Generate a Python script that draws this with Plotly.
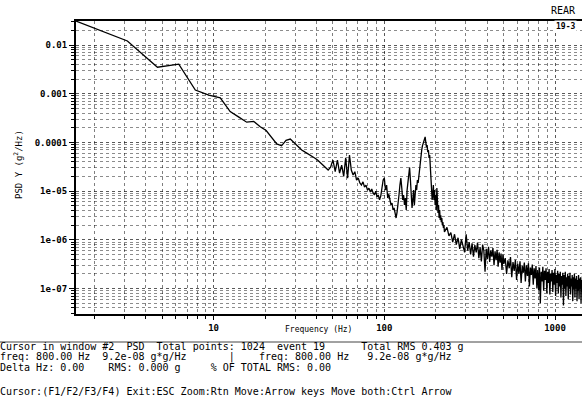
import math
import plotly.graph_objects as go

# ---------------- data ----------------
freq_low = [1.5625, 3.125, 4.6875, 6.25, 7.8125, 9.375, 10.9375,
            12.5, 14.0625, 15.625, 17.1875, 18.75, 20.3125, 21.875, 23.4375, 25.0,
            26.5625, 28.125, 29.6875, 31.25, 32.8125, 34.375, 35.9375, 37.5,
            39.0625, 40.625, 42.1875, 43.75, 45.3125, 46.875, 48.4375, 50.0,
            51.5625, 53.125, 54.6875, 56.25, 57.8125, 59.375, 60.9375, 62.5,
            64.0625, 65.625, 67.1875, 68.75, 70.3125, 71.875, 73.4375, 75.0,
            76.5625, 78.125, 79.6875, 81.25, 82.8125, 84.375, 85.9375, 87.5,
            89.0625, 90.625, 92.1875, 93.75, 95.3125, 96.875, 98.4375, 100.0]
psd_low = [3.1e-2, 1.21e-2, 3.5e-3, 4.05e-3, 1.19e-3, 9.4e-4, 8.2e-4,
           4.3e-4, 3.3e-4, 2.6e-4, 2.7e-4, 2.1e-4, 1.75e-4, 1.23e-4, 9.3e-5, 8.5e-5,
           1.1e-4, 1.17e-4, 9.7e-5, 8.0e-5, 7.0e-5, 6.3e-5, 5.8e-5, 5.3e-5,
           4.8e-5, 4.35e-5, 3.8e-5, 3.4e-5, 3.0e-5, 2.7e-5, 3.1e-5, 4.35e-5,
           2.5e-5, 4.35e-5, 2.35e-5, 3.4e-5, 2.0e-5, 4.8e-5, 1.85e-5, 5.5e-5,
           2.7e-5, 2.14e-5, 2.5e-5, 1.69e-5, 1.85e-5, 1.47e-5, 1.33e-5, 1.55e-5,
           1.21e-5, 1.33e-5, 1.05e-5, 1.15e-5, 9.6e-6, 1.1e-5, 9.2e-6, 8.3e-6,
           1.0e-5, 7.6e-6, 8.3e-6, 6.6e-6, 7.9e-6, 1.27e-5, 1.69e-5, 1.85e-5]

freq_mid = [101.5625, 103.125, 104.6875, 106.25, 107.8125, 109.375, 110.9375, 112.5,
            114.0625, 115.625, 117.1875, 118.75, 120.3125, 121.875, 123.4375, 125.0,
            126.5625, 128.125, 129.6875, 131.25, 132.8125, 134.375, 135.9375, 137.5,
            139.0625, 140.625, 142.1875, 143.75, 145.3125, 146.875, 148.4375, 150.0,
            151.5625, 153.125, 154.6875, 156.25, 157.8125, 159.375, 160.9375, 162.5,
            164.0625, 165.625, 167.1875, 168.75, 170.3125, 171.875, 173.4375, 175.0,
            176.5625, 178.125, 179.6875, 181.25, 182.8125, 184.375, 185.9375, 187.5,
            189.0625, 190.625, 192.1875, 193.75, 195.3125, 196.875, 198.4375, 200.0,
            201.5625, 203.125, 204.6875, 206.25, 207.8125, 209.375, 210.9375, 212.5,
            214.0625, 215.625, 217.1875, 218.75, 220.3125, 221.875, 223.4375, 225.0]
psd_mid = [1.05e-5, 1.33e-5, 7.2e-6, 8.6e-6, 6.6e-6, 5.2e-6, 5.7e-6, 4.1e-6,
           4.5e-6, 3.4e-6, 2.8e-6, 3.7e-6, 5.2e-6, 8.3e-6, 1.33e-5, 1.85e-5,
           1.15e-5, 6.6e-6, 8.3e-6, 5.2e-6, 7.2e-6, 4.1e-6, 1.05e-5, 1.69e-5,
           2.7e-5, 3.06e-5, 1.69e-5, 8.3e-6, 4.5e-6, 6.6e-6, 1.05e-5, 5.2e-6,
           8.3e-6, 1.33e-5, 1.05e-5, 1.69e-5, 1.47e-5, 2.14e-5, 3.0e-5, 4.35e-5,
           5.5e-5, 7.0e-5, 8.5e-5, 9.7e-5, 1.07e-4, 1.2e-4, 1.3e-4, 1.0e-4,
           8.0e-5, 8.8e-5, 6.3e-5, 7.0e-5, 4.8e-5, 5.5e-5, 3.4e-5, 2.14e-5,
           1.05e-5, 6.6e-6, 8.3e-6, 1.33e-5, 6.6e-6, 1.05e-5, 5.2e-6, 8.3e-6,
           4.1e-6, 1.15e-5, 6.6e-6, 3.55e-6, 5.2e-6, 2.8e-6, 4.1e-6, 2.55e-6,
           3.2e-6, 2.3e-6, 2.8e-6, 2.0e-6, 2.3e-6, 1.75e-6, 2.0e-6, 1.45e-6]

freq_hi_a = [226.5625, 232.8125, 239.0625, 245.3125, 251.5625, 257.8125, 264.0625, 270.3125, 276.5625,
             282.8125, 289.0625, 295.3125, 301.5625, 307.8125, 314.0625, 320.3125, 326.5625,
             332.8125, 339.0625, 345.3125, 351.5625, 357.8125, 364.0625, 370.3125, 376.5625,
             382.8125, 389.0625, 395.3125, 401.5625, 407.8125, 414.0625, 420.3125, 426.5625,
             432.8125, 439.0625, 445.3125, 451.5625, 457.8125, 464.0625, 470.3125, 476.5625,
             482.8125, 489.0625, 495.3125, 501.5625]
psd_hi_a = [1.5e-6, 1.8e-6, 1.2e-6, 1.4e-6, 9.0e-7, 1.3e-6, 8.0e-7, 1.1e-6, 6.5e-7,
            1.0e-6, 7.5e-7, 5.5e-7, 1.3e-6, 6.0e-7, 9.0e-7, 5.0e-7, 8.5e-7,
            4.5e-7, 7.8e-7, 5.5e-7, 8.8e-7, 4.2e-7, 7.0e-7, 3.6e-7, 8.0e-7,
            6.0e-7, 2.2e-7, 6.5e-7, 4.0e-7, 7.2e-7, 3.5e-7, 6.0e-7, 4.5e-7,
            6.8e-7, 3.0e-7, 5.8e-7, 3.8e-7, 6.2e-7, 2.8e-7, 5.5e-7, 3.4e-7,
            5.2e-7, 2.4e-7, 5.0e-7, 3.2e-7]

freq_hi_b = [510.94, 520.31, 529.69, 539.06, 548.44, 557.81, 567.19, 576.56, 585.94, 595.31,
             604.69, 614.06, 623.44, 632.81, 642.19, 651.56, 660.94, 670.31, 679.69, 689.06,
             698.44, 707.81, 717.19, 726.56, 735.94, 745.31, 754.69, 764.06, 773.44, 782.81,
             792.19, 801.56, 810.94, 820.31, 829.69, 839.06, 848.44, 857.81, 867.19, 876.56,
             885.94, 895.31, 904.69, 914.06, 923.44, 932.81, 942.19, 951.56, 960.94, 970.31,
             979.69, 989.06, 998.44, 1007.81, 1017.19, 1026.56, 1035.94, 1045.31, 1054.69, 1064.06,
             1073.44, 1082.81, 1092.19, 1101.56, 1110.94, 1120.31, 1129.69, 1139.06, 1148.44, 1157.81,
             1167.19, 1176.56, 1185.94, 1195.31, 1204.69, 1214.06, 1223.44, 1232.81, 1242.19, 1251.56,
             1260.94, 1270.31, 1279.69, 1289.06, 1298.44, 1307.81, 1317.19, 1326.56, 1335.94, 1345.31,
             1354.69, 1364.06, 1373.44, 1382.81, 1392.19, 1401.56, 1410.94, 1420.31, 1429.69, 1439.06,
             1448.44, 1457.81]
psd_hi_b = [4.2e-7, 2.0e-7, 3.8e-7, 2.6e-7, 4.4e-7, 1.7e-7, 3.5e-7, 2.3e-7, 3.9e-7, 1.5e-7,
            3.2e-7, 2.0e-7, 3.6e-7, 1.3e-7, 2.9e-7, 2.1e-7, 3.4e-7, 1.4e-7, 3.0e-7, 1.8e-7,
            3.3e-7, 1.1e-7, 2.7e-7, 1.9e-7, 3.1e-7, 1.2e-7, 2.6e-7, 1.6e-7, 2.9e-7, 1.0e-7,
            2.4e-7, 9.2e-8, 2.7e-7, 5.0e-8, 2.2e-7, 1.4e-7, 2.8e-7, 9.0e-8, 2.3e-7, 1.5e-7,
            2.6e-7, 8.0e-8, 2.2e-7, 1.3e-7, 2.5e-7, 7.5e-8, 2.0e-7, 1.4e-7, 2.4e-7, 8.5e-8,
            2.1e-7, 1.2e-7, 2.5e-7, 7.0e-8, 1.9e-7, 1.3e-7, 2.3e-7, 8.0e-8, 2.0e-7, 1.1e-7,
            2.2e-7, 6.5e-8, 1.8e-7, 1.2e-7, 2.1e-7, 4.5e-8, 1.9e-7, 1.0e-7, 2.2e-7, 7.0e-8,
            1.7e-7, 1.1e-7, 2.0e-7, 6.0e-8, 1.8e-7, 1.0e-7, 2.1e-7, 7.5e-8, 1.6e-7, 1.1e-7,
            1.9e-7, 5.5e-8, 1.7e-7, 9.5e-8, 2.0e-7, 6.5e-8, 1.6e-7, 1.0e-7, 1.8e-7, 5.5e-8,
            1.5e-7, 9.0e-8, 1.9e-7, 6.0e-8, 1.6e-7, 1.0e-7, 1.7e-7, 5.0e-8, 1.5e-7, 8.5e-8,
            1.8e-7, 6.0e-8]

x_tick_vals = [10, 100, 1000]
x_tick_text = ["10", "100", "1000"]
y_tick_vals = [1e-7, 1e-6, 1e-5, 1e-4, 1e-3, 1e-2]
y_tick_text = ["1e-07", "1e-06", "1e-05", "0.0001", "0.001", "0.01"]

info_lines = [
    "Cursor in window #2  PSD  Total points: 1024  event 19      Total RMS 0.403 g",
    "freq: 800.00 Hz  9.2e-08 g*g/Hz       |    freq: 800.00 Hz   9.2e-08 g*g/Hz",
    "Delta Hz: 0.00    RMS: 0.000 g     % OF TOTAL RMS: 0.00",
]
footer = "Cursor:(F1/F2/F3/F4) Exit:ESC Zoom:Rtn Move:Arrow keys Move both:Ctrl Arrow"

# ---------------- layout geometry ----------------
W, H = 582, 403
L, R, T, B = 76, 0, 21, 89
PW, PH = W - L - R, H - T - B


def px_x(x):
    return (x - L) / PW


def px_y(y):
    return (H - B - y) / PH


freqs = freq_low + freq_mid + freq_hi_a + freq_hi_b
psd = psd_low + psd_mid + psd_hi_a + psd_hi_b

fig = go.Figure()
fig.add_trace(go.Scatter(x=freqs, y=psd, mode="lines",
                         line=dict(color="black", width=1.3),
                         hoverinfo="skip", showlegend=False))

minor_x = [m * 10 ** k for k in range(0, 4) for m in range(2, 10)]
minor_y = [m * 10 ** k for k in range(-8, -1) for m in range(2, 10)]

mono = "DejaVu Sans Mono"
tickfont = dict(family=mono, size=9, color="black", weight="bold")

fig.update_xaxes(type="log", range=[math.log10(1.5625), 3.158],
                 tickmode="array", tickvals=x_tick_vals, ticktext=x_tick_text,
                 ticks="outside", ticklen=4, tickwidth=1, tickcolor="black",
                 tickfont=tickfont,
                 showline=True, linecolor="black", linewidth=2, mirror=True,
                 showgrid=True, gridcolor="rgba(0,0,0,0.65)", griddash="dot", gridwidth=1,
                 minor=dict(tickvals=minor_x, ticks="outside", ticklen=3, tickcolor="black",
                            showgrid=True, gridcolor="rgba(0,0,0,0.5)", griddash="dot",
                            gridwidth=1),
                 zeroline=False)
fig.update_yaxes(type="log", range=[-7.524, -1.507],
                 tickmode="array", tickvals=y_tick_vals, ticktext=y_tick_text,
                 ticks="outside", ticklen=5, tickwidth=1, tickcolor="black",
                 tickfont=tickfont,
                 showline=True, linecolor="black", linewidth=2, mirror=False,
                 showgrid=True, gridcolor="rgba(0,0,0,0.65)", griddash="dot", gridwidth=1,
                 minor=dict(tickvals=minor_y, ticks="outside", ticklen=3, tickcolor="black",
                            showgrid=True, gridcolor="rgba(0,0,0,0.45)", griddash="dot",
                            gridwidth=1),
                 zeroline=False)

annots = []
annots.append(dict(text="Frequency (Hz)", x=px_x(318), y=px_y(336), xref="paper", yref="paper",
                   showarrow=False, font=dict(family=mono, size=8, color="black")))
annots.append(dict(text="PSD Y (g<sup>2</sup>/Hz)", x=px_x(10), y=px_y(165), xref="paper",
                   yref="paper", showarrow=False, textangle=-90,
                   font=dict(family=mono, size=9, color="black")))
for txt, yy in zip(info_lines, [346, 356.5, 367]):
    annots.append(dict(text=txt.replace(" ", "&nbsp;"), x=px_x(-2), y=px_y(yy), xref="paper",
                       yref="paper", xanchor="left", yanchor="middle", showarrow=False,
                       font=dict(family=mono, size=10, color="black")))
annots.append(dict(text=footer.replace(" ", "&nbsp;"), x=px_x(-2), y=px_y(391), xref="paper",
                   yref="paper", xanchor="left", yanchor="middle", showarrow=False,
                   font=dict(family=mono, size=10, color="black")))
annots.append(dict(text="REAR", x=px_x(549), y=px_y(10), xref="paper", yref="paper",
                   xanchor="left", yanchor="middle", showarrow=False,
                   font=dict(family=mono, size=10, color="black")))
annots.append(dict(text="19-3", x=px_x(554), y=px_y(26), xref="paper", yref="paper",
                   xanchor="left", yanchor="middle", showarrow=False, bgcolor="white",
                   font=dict(family=mono, size=8, color="black", weight="bold")))

shapes = [dict(type="line", xref="paper", yref="paper", x0=px_x(0), x1=px_x(W),
               y0=px_y(342), y1=px_y(342), line=dict(color="#444", width=1))]

fig.update_layout(width=W, height=H, margin=dict(l=L, r=R, t=T, b=B),
                  paper_bgcolor="white", plot_bgcolor="white",
                  annotations=annots, shapes=shapes, showlegend=False)

fig.write_html("out.html", config={"displayModeBar": False},
               post_script="document.body.style.margin='0';document.body.style.overflow='hidden';")
